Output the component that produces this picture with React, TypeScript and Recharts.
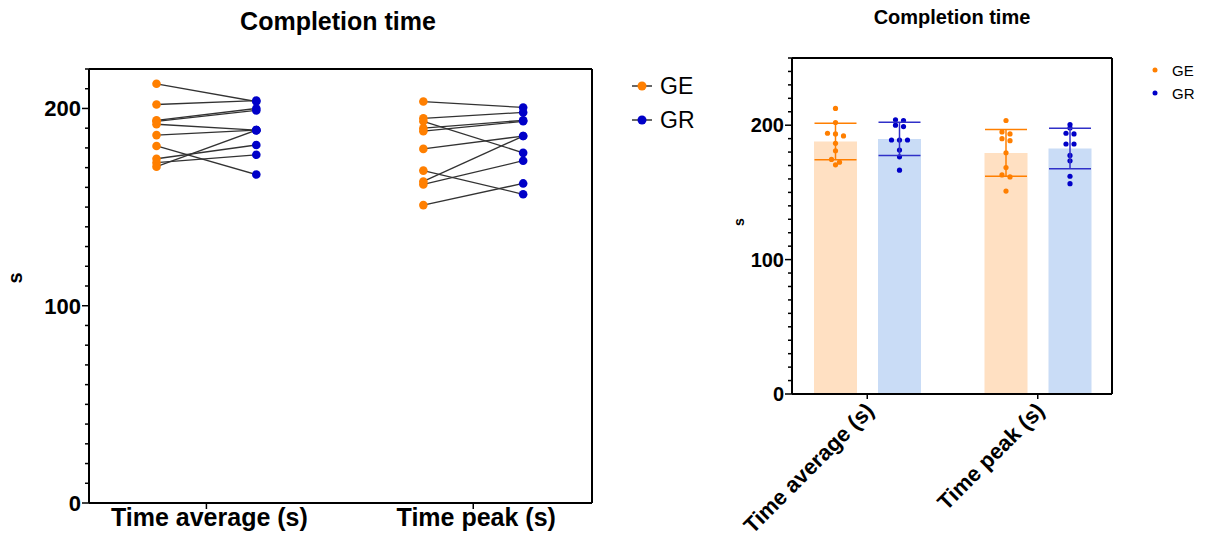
import {
  Bar,
  ComposedChart,
  ErrorBar,
  Line,
  Scatter,
  XAxis,
  YAxis,
} from "recharts";

const CATEGORIES = ["Time average (s)", "Time peak (s)"];
const GROUPS = ["GE", "GR"];

// paired completion times per participant, same order in each pair of arrays
const GE_AVG = [212.5, 202, 194, 193.5, 192, 186.5, 181, 174.5, 172.5, 170.5];
const GR_AVG = [203.5, 204, 200, 199, 189, 189, 166.5, 181.5, 176.5, 189];
const GE_PEAK = [203.5, 195, 193.5, 190, 188.5, 179.5, 168.5, 163, 161.5, 151];
const GR_PEAK = [200.5, 198, 177.5, 194, 193.5, 186, 156.5, 186, 173.5, 162];

const LEFT_TICKS = Array.from({ length: 23 }, (_, i) => i * 10);
const RIGHT_TICKS = Array.from({ length: 26 }, (_, i) => i * 10);

const ORANGE = "#FF7F00";
const BLUE = "#0000C8";
const FONT = "'Liberation Sans', Arial, sans-serif";

const byCategory = [
  { ge: GE_AVG, gr: GR_AVG },
  { ge: GE_PEAK, gr: GR_PEAK },
];

const mean = (a: number[]) => a.reduce((s, v) => s + v, 0) / a.length;
const sd = (a: number[]) => {
  const m = mean(a);
  return Math.sqrt(a.reduce((s, v) => s + (v - m) ** 2, 0) / (a.length - 1));
};

// left panel: GE / GR dodged around each category index
const DODGE = 0.187;
const pairLines = byCategory.flatMap((c, ci) =>
  c.ge.map((v, i) => [
    { x: ci - DODGE, v },
    { x: ci + DODGE, v: c.gr[i] },
  ])
);
const geDots = byCategory.flatMap((c, ci) => c.ge.map((v) => ({ x: ci - DODGE, v })));
const grDots = byCategory.flatMap((c, ci) => c.gr.map((v) => ({ x: ci + DODGE, v })));

// right panel: mean ± SD with the raw values
const summary = CATEGORIES.map((cat, ci) => ({
  cat,
  ge: mean(byCategory[ci].ge),
  gr: mean(byCategory[ci].gr),
  geSd: sd(byCategory[ci].ge),
  grSd: sd(byCategory[ci].gr),
  geVals: byCategory[ci].ge,
  grVals: byCategory[ci].gr,
}));

// spread near-equal values sideways so they don't hide each other
function swarmOffsets(vals: number[], tol = 2.2, step = 8) {
  const order = vals.map((_, i) => i).sort((a, b) => vals[b] - vals[a]);
  const out = new Array(vals.length).fill(0);
  let i = 0;
  while (i < order.length) {
    let j = i;
    while (j + 1 < order.length && vals[order[i]] - vals[order[j + 1]] < tol) j++;
    const n = j - i + 1;
    for (let k = 0; k < n; k++) out[order[i + k]] = (k - (n - 1) / 2) * step;
    i = j + 1;
  }
  return out;
}

const makeYTick =
  (fontSize: number, major: number) =>
  ({ x, y, payload }: any) => {
    const isMajor = payload.value % 100 === 0;
    return (
      <g>
        <line x1={x} x2={x - (isMajor ? major : 4)} y1={y} y2={y} stroke="#000" strokeWidth={1.5} />
        {isMajor && (
          <text
            x={x - major - 1}
            y={y}
            dy="0.36em"
            textAnchor="end"
            fontSize={fontSize}
            fontWeight="bold"
            fontFamily={FONT}
            fill="#000"
          >
            {payload.value}
          </text>
        )}
      </g>
    );
  };

const CategoryTick = ({ x, y, payload }: any) => (
  <g>
    <line x1={x} x2={x} y1={y} y2={y + 6} stroke="#000" strokeWidth={1.5} />
    <text x={x + 3} y={y + 23} textAnchor="middle" fontSize={25} fontWeight="bold" fontFamily={FONT} fill="#000">
      {CATEGORIES[payload.value]}
    </text>
  </g>
);

const SlantTick = ({ x, y, payload }: any) => (
  <g>
    <line x1={x} x2={x} y1={y} y2={y + 5} stroke="#000" strokeWidth={1.5} />
    <text
      transform={`translate(${x + 8},${y + 18}) rotate(-45)`}
      textAnchor="end"
      fontSize={22}
      fontWeight="bold"
      fontFamily={FONT}
      fill="#000"
    >
      {payload.value}
    </text>
  </g>
);

const axisLabel =
  (dx: number, dy: number, fontSize: number) =>
  ({ viewBox }: any) => {
    const tx = viewBox.x + dx;
    const ty = viewBox.y + viewBox.height / 2 + dy;
    return (
      <text
        transform={`translate(${tx},${ty}) rotate(-90)`}
        textAnchor="middle"
        fontSize={fontSize}
        fontWeight="bold"
        fontFamily={FONT}
        fill="#000"
      >
        s
      </text>
    );
  };

const dotShape = (color: string, r: number) => (p: any) =>
  <circle cx={p.cx} cy={p.cy} r={r} fill={color} />;

// draws the individual values over a bar, using the bar's own geometry as the scale
const swarmShape = (key: "geVals" | "grVals", meanKey: "ge" | "gr", color: string) => (p: any) => {
  const vals: number[] = p.payload[key];
  const base = p.y + p.height;
  const k = p.height / p.payload[meanKey];
  const offs = swarmOffsets(vals);
  return (
    <g>
      {vals.map((v, i) => (
        <circle key={i} cx={p.x + p.width / 2 + offs[i]} cy={base - v * k} r={2.6} fill={color} />
      ))}
    </g>
  );
};

const frame = { stroke: "#000", strokeWidth: 2 };

function PairedChart() {
  return (
    <ComposedChart width={620} height={544} margin={{ top: 68, right: 27, bottom: 0, left: 0 }}>
      <XAxis
        type="number"
        dataKey="x"
        domain={[-0.44, 1.445]}
        ticks={[0, 1]}
        interval={0}
        allowDataOverflow
        height={41}
        tickSize={0}
        tickMargin={0}
        tick={<CategoryTick />}
        axisLine={frame}
      />
      <XAxis
        xAxisId="top"
        orientation="top"
        type="number"
        domain={[-0.44, 1.445]}
        height={1}
        tick={false}
        tickLine={false}
        axisLine={frame}
      />
      <YAxis
        type="number"
        domain={[0, 220]}
        ticks={LEFT_TICKS}
        interval={0}
        width={89}
        tickSize={0}
        tickMargin={0}
        tick={makeYTick(22, 7)}
        axisLine={frame}
        label={{ content: axisLabel(22, -8, 20) }}
      />
      <YAxis
        yAxisId="right"
        orientation="right"
        type="number"
        domain={[0, 220]}
        width={1}
        tick={false}
        tickLine={false}
        axisLine={frame}
      />
      {pairLines.map((d, i) => (
        <Line
          key={i}
          data={d}
          dataKey="v"
          type="linear"
          stroke="#333"
          strokeWidth={1.3}
          dot={false}
          activeDot={false}
          isAnimationActive={false}
        />
      ))}
      <Scatter data={geDots} dataKey="v" shape={dotShape(ORANGE, 4.3)} isAnimationActive={false} />
      <Scatter data={grDots} dataKey="v" shape={dotShape(BLUE, 4.3)} isAnimationActive={false} />
    </ComposedChart>
  );
}

function SummaryChart() {
  const pad = { left: -10, right: -11 };
  return (
    <ComposedChart
      width={440}
      height={544}
      data={summary}
      barGap={21}
      margin={{ top: 57, right: 27, bottom: 0, left: 0 }}
    >
      <XAxis
        dataKey="cat"
        padding={pad}
        height={150}
        interval={0}
        tickSize={0}
        tickMargin={0}
        tick={<SlantTick />}
        axisLine={frame}
      />
      <XAxis xAxisId="dots" dataKey="cat" padding={pad} hide />
      <XAxis
        xAxisId="top"
        orientation="top"
        dataKey="cat"
        height={1}
        tick={false}
        tickLine={false}
        axisLine={frame}
      />
      <YAxis
        type="number"
        domain={[0, 250]}
        ticks={RIGHT_TICKS}
        interval={0}
        width={92}
        tickSize={0}
        tickMargin={0}
        tick={makeYTick(20, 7)}
        axisLine={frame}
        label={{ content: axisLabel(44, -4, 14) }}
      />
      <YAxis
        yAxisId="right"
        orientation="right"
        type="number"
        domain={[0, 250]}
        width={1}
        tick={false}
        tickLine={false}
        axisLine={frame}
      />
      <Bar dataKey="ge" barSize={43} fill="#FFE0C2" isAnimationActive={false}>
        <ErrorBar dataKey="geSd" width={21} stroke={ORANGE} strokeWidth={1.5} direction="y" />
      </Bar>
      <Bar dataKey="gr" barSize={43} fill="#C9DCF6" isAnimationActive={false}>
        <ErrorBar dataKey="grSd" width={21} stroke="#3030C8" strokeWidth={1.5} direction="y" />
      </Bar>
      <Bar xAxisId="dots" dataKey="ge" barSize={43} shape={swarmShape("geVals", "ge", ORANGE)} isAnimationActive={false} />
      <Bar xAxisId="dots" dataKey="gr" barSize={43} shape={swarmShape("grVals", "gr", BLUE)} isAnimationActive={false} />
    </ComposedChart>
  );
}

export default function App() {
  const colors = [ORANGE, BLUE];
  return (
    <div style={{ position: "absolute", left: 0, top: 0, width: 1206, height: 544, background: "#fff" }}>
      <div style={{ position: "absolute", left: 0, top: 0 }}>
        <PairedChart />
      </div>
      <div style={{ position: "absolute", left: 700, top: 0 }}>
        <SummaryChart />
      </div>
      <svg
        width={1206}
        height={544}
        style={{ position: "absolute", left: 0, top: 0, pointerEvents: "none" }}
        fontFamily={FONT}
      >
        <text x={338} y={30} textAnchor="middle" fontSize={25} fontWeight="bold">
          Completion time
        </text>
        <text x={952} y={24} textAnchor="middle" fontSize={20} fontWeight="bold">
          Completion time
        </text>
        {GROUPS.map((g, i) => (
          <g key={`l-${g}`}>
            <line x1={632} x2={652} y1={86 + i * 34} y2={86 + i * 34} stroke="#000" strokeWidth={1.2} />
            <circle cx={642} cy={86 + i * 34} r={4.5} fill={colors[i]} />
            <text x={660} y={94 + i * 34} fontSize={23}>
              {g}
            </text>
          </g>
        ))}
        {GROUPS.map((g, i) => (
          <g key={`r-${g}`}>
            <circle cx={1155} cy={70 + i * 23} r={2.5} fill={colors[i]} />
            <text x={1172} y={75.5 + i * 23} fontSize={15}>
              {g}
            </text>
          </g>
        ))}
      </svg>
    </div>
  );
}
